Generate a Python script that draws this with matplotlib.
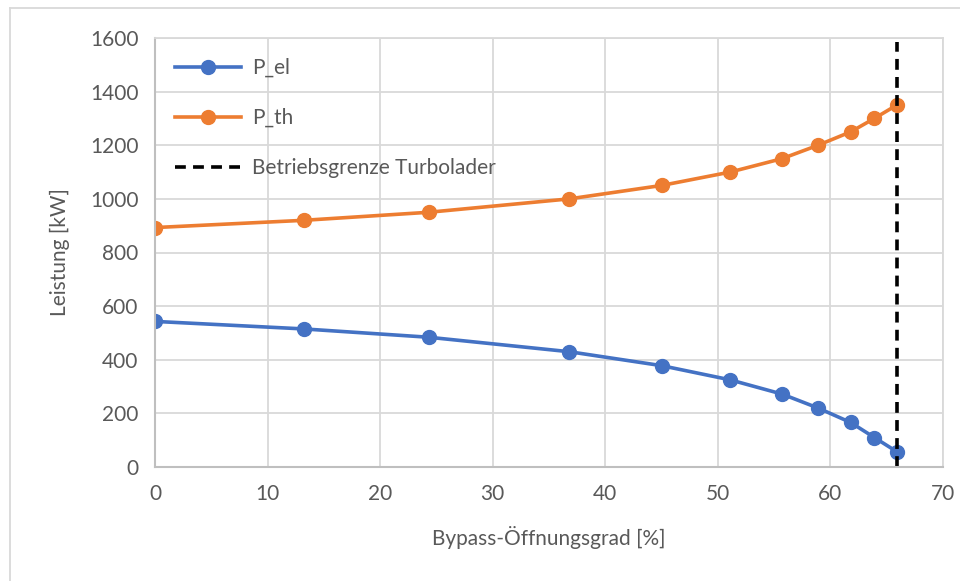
import matplotlib
matplotlib.use("Agg")
import matplotlib.pyplot as plt
from matplotlib.lines import Line2D

# Werte
bypass = [0, 13.2, 24.3, 36.8, 45.0, 51.1, 55.7, 58.9, 61.8, 63.9, 65.9]
p_el = [543, 515, 484, 430, 378, 325, 272, 220, 166, 110, 57]
p_th = [893, 920, 950, 1000, 1050, 1100, 1150, 1200, 1250, 1300, 1350]
grenze_x = 65.9
grenze_y = [0, 1585]

plt.rcParams["font.family"] = ["Lato", "DejaVu Sans"]
txt = "#595959"

fig = plt.figure(figsize=(9.6, 5.81), dpi=100)
ax = fig.add_axes([155 / 960, 1 - 467 / 581, (943 - 155) / 960, (467 - 38) / 581])

ax.plot(bypass, p_el, color="#4472C4", lw=2.6, marker="o", ms=10, label="P_el")
ax.plot(bypass, p_th, color="#ED7D31", lw=2.6, marker="o", ms=10, label="P_th")
ax.plot([grenze_x, grenze_x], grenze_y, color="black", lw=2.6, ls=(0, (3, 2)),
        label="Betriebsgrenze Turbolader")

ax.set_xlim(0, 70)
ax.set_ylim(0, 1600)
ax.set_xticks(range(0, 71, 10))
ax.set_yticks(range(0, 1601, 200))
ax.grid(True, color="#D9D9D9", lw=1.3)
ax.set_axisbelow(True)
ax.tick_params(length=0, labelsize=15, colors=txt, pad=12)
for s in ["top", "right"]:
    ax.spines[s].set_color("#D9D9D9")
    ax.spines[s].set_linewidth(1.3)
for s in ["left", "bottom"]:
    ax.spines[s].set_color("#BFBFBF")
    ax.spines[s].set_linewidth(1.5)

ax.set_xlabel("Bypass-Öffnungsgrad [%]", fontsize=15, color=txt, labelpad=16)
ax.set_ylabel("Leistung [kW]", fontsize=15, color=txt, labelpad=14)

leg = ax.legend(loc="upper left", bbox_to_anchor=(0.0, 1.0), frameon=False,
                fontsize=15, labelcolor=txt, handlelength=3.2, labelspacing=1.45,
                borderaxespad=0.55, handletextpad=0.5)

# Rahmen des Diagrammbereichs
fig.add_artist(Line2D([10 / 960, 10 / 960], [0, 1 - 8 / 581], color="#D9D9D9", lw=1.3))
fig.add_artist(Line2D([10 / 960, 1], [1 - 8 / 581, 1 - 8 / 581], color="#D9D9D9", lw=1.3))

fig.savefig("out.png", dpi=100)
